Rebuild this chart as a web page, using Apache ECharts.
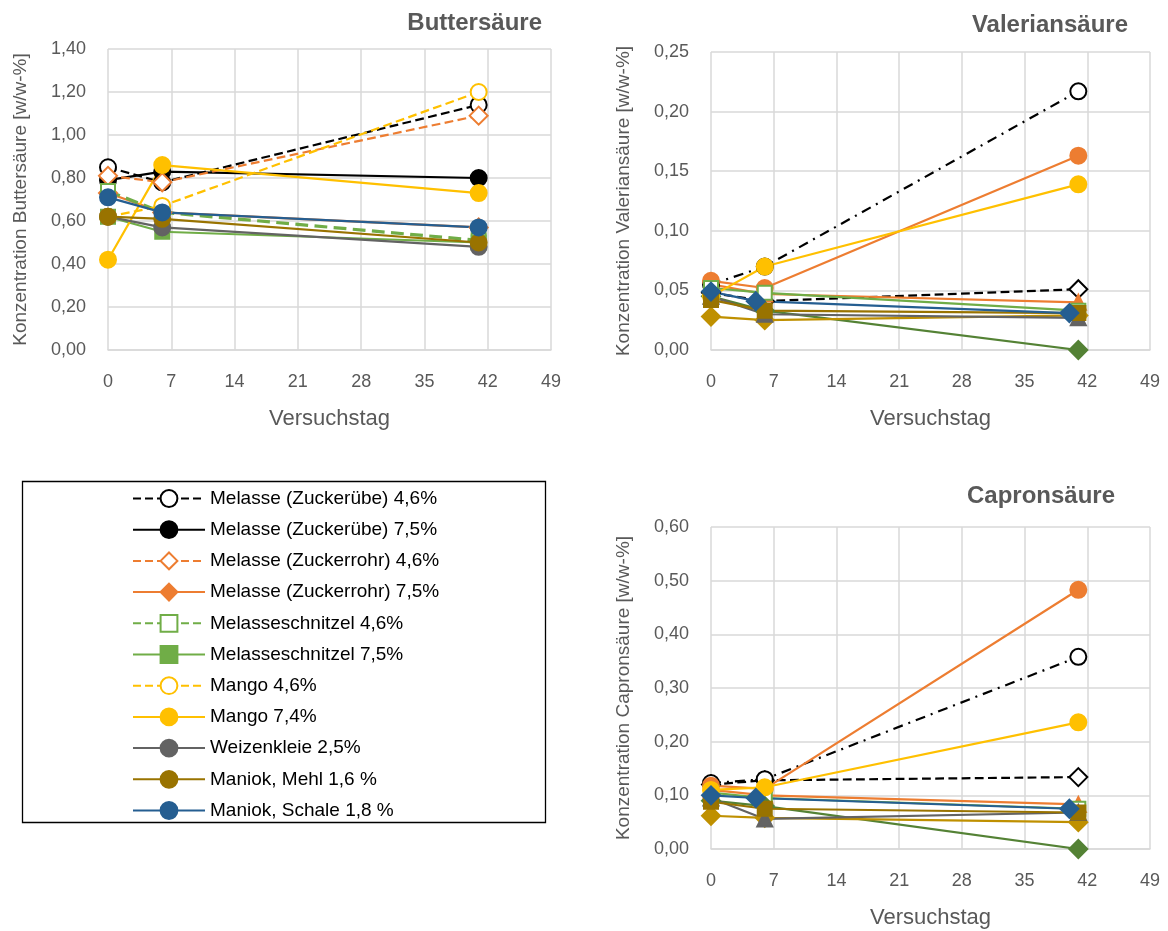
<!DOCTYPE html>
<html><head><meta charset="utf-8">
<script src="https://cdn.jsdelivr.net/npm/echarts@6/dist/echarts.min.js"></script>
<style>html,body{margin:0;padding:0;background:#fff}#c{width:1168px;height:931px}</style>
</head><body><div id="c"></div><script>
// ---- data ----
const days = [0, 6, 41];
const daysShifted = [0, 5, 40];
const seriesNames = [
  'Melasse (Zuckerübe) 4,6%', 'Melasse (Zuckerübe) 7,5%',
  'Melasse (Zuckerrohr) 4,6%', 'Melasse (Zuckerrohr) 7,5%',
  'Melasseschnitzel 4,6%', 'Melasseschnitzel 7,5%',
  'Mango 4,6%', 'Mango 7,4%', 'Weizenkleie 2,5%',
  'Maniok, Mehl 1,6 %', 'Maniok, Schale 1,8 %'
];
const butterValues = [
  [0.85, 0.78, 1.14],
  [0.79, 0.83, 0.80],
  [0.81, 0.78, 1.09],
  [0.73, 0.64, 0.57],
  [0.74, 0.64, 0.51],
  [0.62, 0.55, 0.50],
  [0.62, 0.67, 1.20],
  [0.42, 0.86, 0.73],
  [0.62, 0.57, 0.48],
  [0.62, 0.61, 0.50],
  [0.71, 0.64, 0.57]
];
const valerianValues = [
  [0.048, 0.041, 0.051],
  [0.055, 0.070, 0.217],
  [0.055, 0.047, 0.040],
  [0.058, 0.052, 0.163],
  [0.052, 0.048, 0.033],
  [0.045, 0.033, 0.000],
  [0.028, 0.025, 0.029],
  [0.045, 0.070, 0.139],
  [0.045, 0.030, 0.027],
  [0.042, 0.033, 0.031],
  [0.049, 0.041, 0.031]
];
const capronValues = [
  [0.120, 0.128, 0.134],
  [0.123, 0.130, 0.358],
  [0.110, 0.100, 0.083],
  [0.118, 0.112, 0.483],
  [0.105, 0.095, 0.075],
  [0.090, 0.080, 0.000],
  [0.062, 0.058, 0.050],
  [0.110, 0.115, 0.236],
  [0.095, 0.056, 0.068],
  [0.088, 0.075, 0.068],
  [0.100, 0.095, 0.075]
];

// ---- styles ----
const C = {black:'#000000', orange:'#ED7D31', green:'#70AD47', yellow:'#FFC000', gray:'#636363', olive:'#997300', blue:'#255E91', dgreen:'#548235', gold:'#BF9000'};
const leftStyles = [
  {c:C.black, t:'dashed', s:'emptyCircle', z:15},
  {c:C.black, t:'solid', s:'circle', z:15},
  {c:C.orange, t:'dashed', s:'emptyDiamond', z:17},
  {c:C.orange, t:'solid', s:'diamond', z:17},
  {c:C.green, t:'dashed', s:'emptyRect', z:13, w:3.2},
  {c:C.green, t:'solid', s:'rect', z:13},
  {c:C.yellow, t:'dashed', s:'emptyCircle', z:15},
  {c:C.yellow, t:'solid', s:'circle', z:15},
  {c:C.gray, t:'solid', s:'circle', z:15},
  {c:C.olive, t:'solid', s:'circle', z:15},
  {c:C.blue, t:'solid', s:'circle', z:15}
];
const rightStyles = [
  {c:C.black, t:'dashed', s:'emptyDiamond', z:16},
  {c:C.black, t:[10,6,2,6], s:'emptyCircle', z:15},
  {c:C.orange, t:'solid', s:'triangle', z:14},
  {c:C.orange, t:'solid', s:'circle', z:15},
  {c:C.green, t:'solid', s:'emptyRect', z:13},
  {c:C.dgreen, t:'solid', s:'diamond', z:16},
  {c:C.gold, t:'solid', s:'diamond', z:16},
  {c:C.yellow, t:'solid', s:'circle', z:15},
  {c:C.gray, t:'solid', s:'triangle', z:14},
  {c:C.olive, t:'solid', s:'rect', z:13},
  {c:C.blue, t:'solid', s:'diamond', z:16}
];
const FONT = 'Liberation Sans';
const TXT = '#595959';
const GRID_C = '#d9d9d9';

function symSize(s){
  if (s.indexOf('ircle')>=0) return 16;
  if (s.indexOf('iamond')>=0) return 18;
  if (s.indexOf('riangle')>=0) return 15;
  return 14;
}

function makeSeries(values, styles, idx, dayFor){
  return values.map((row, i) => {
    const st = styles[i];
    const xs = dayFor(i);
    return {
      name: seriesNames[i], type: 'line', xAxisIndex: idx, yAxisIndex: idx,
      data: row.map((v, k) => [xs[k], v]),
      symbol: st.s, symbolSize: symSize(st.s), showSymbol: true,
      lineStyle: {color: st.c, width: st.w || 2.2, type: st.t},
      itemStyle: {color: st.c, borderColor: st.c, borderWidth: 2},
      emphasis: {disabled: true}, animation: false
    };
  });
}

function xAxis(idx){
  return {gridIndex: idx, type: 'value', min: 0, max: 49, interval: 7,
    name: 'Versuchstag', nameLocation: 'middle', nameGap: 58,
    nameTextStyle: {fontFamily: FONT, fontSize: 22, color: TXT},
    axisLine: {show: true, lineStyle: {color: GRID_C, width: 1.5}},
    axisTick: {show: false},
    axisLabel: {fontFamily: FONT, fontSize: 18, color: TXT, margin: 23},
    splitLine: {show: true, lineStyle: {color: GRID_C, width: 1.5}}};
}
function yAxis(idx, max, interval, name){
  return {gridIndex: idx, type: 'value', min: 0, max: max, interval: interval,
    name: name, nameLocation: 'middle', nameGap: 78, nameRotate: 90,
    nameTextStyle: {fontFamily: FONT, fontSize: 19, color: TXT},
    axisLine: {show: false}, axisTick: {show: false},
    axisLabel: {fontFamily: FONT, fontSize: 18, color: TXT, margin: 22,
      formatter: v => v.toFixed(2).replace('.', ',')},
    splitLine: {show: true, lineStyle: {color: GRID_C, width: 1.5}}};
}

const option = {
  backgroundColor: '#fff',
  animation: false,
  title: [
    {text: 'Buttersäure', right: 621, top: 6, textStyle: {fontFamily: FONT, fontSize: 24, fontWeight: 'bold', color: TXT}},
    {text: 'Valeriansäure', right: 35, top: 8, textStyle: {fontFamily: FONT, fontSize: 24, fontWeight: 'bold', color: TXT}},
    {text: 'Capronsäure', right: 48, top: 479, textStyle: {fontFamily: FONT, fontSize: 24, fontWeight: 'bold', color: TXT}}
  ],
  grid: [
    {left: 108, right: 617, top: 49, bottom: 581},
    {left: 711, right: 18, top: 52, bottom: 581},
    {left: 711, right: 18, top: 527, bottom: 82}
  ],
  xAxis: [xAxis(0), xAxis(1), xAxis(2)],
  yAxis: [
    yAxis(0, 1.4, 0.2, 'Konzentration Buttersäure [w/w-%]'),
    yAxis(1, 0.25, 0.05, 'Konzentration Valeriansäure [w/w-%]'),
    yAxis(2, 0.6, 0.1, 'Konzentration Capronsäure [w/w-%]')
  ],
  legend: {
    data: seriesNames, orient: 'vertical', left: 127, top: 484,
    itemWidth: 72, itemHeight: 21, itemGap: 12.2,
    textStyle: {fontFamily: FONT, fontSize: 19, color: '#000', padding: [0,0,0,0]},
    selectedMode: false
  },
  graphic: [{type: 'rect', shape: {x: 22.5, y: 481.5, width: 523, height: 341}, style: {fill: 'none', stroke: '#000', lineWidth: 1.3}, z: -1}],
  series: [].concat(
    makeSeries(butterValues, leftStyles, 0, () => days),
    makeSeries(valerianValues, rightStyles, 1, i => i === 10 ? daysShifted : days),
    makeSeries(capronValues, rightStyles, 2, i => i === 10 ? daysShifted : days)
  )
};
const chart = echarts.init(document.getElementById('c'), null, {renderer: 'canvas'});
chart.setOption(option);
</script></body></html>
